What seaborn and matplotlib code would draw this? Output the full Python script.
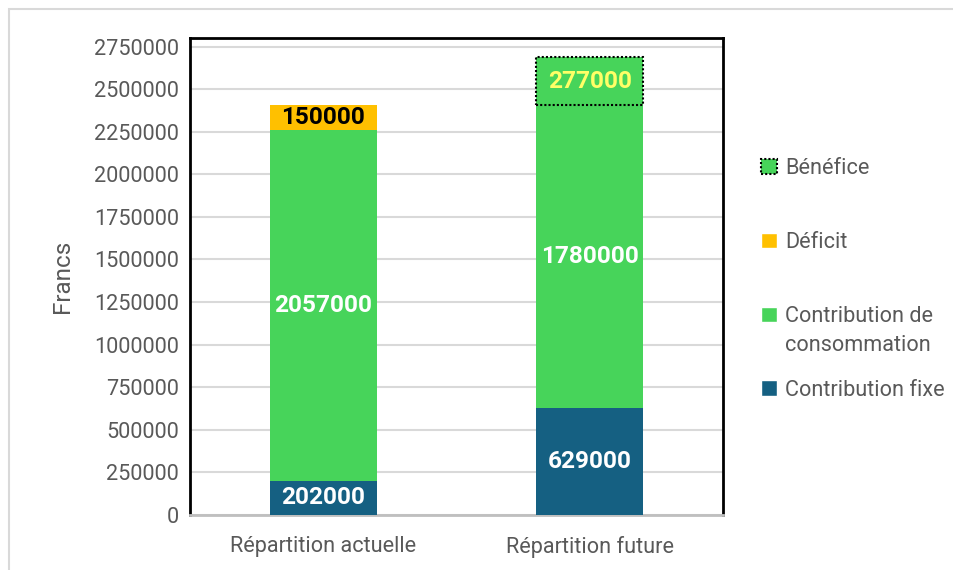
import numpy as np
import pandas as pd
import matplotlib
matplotlib.use("Agg")
import matplotlib.pyplot as plt
from matplotlib.patches import Patch, Rectangle
import seaborn as sns

# data
categories = ["Répartition actuelle", "Répartition future"]
contribution_fixe = [202000, 629000]
contribution_conso = [2057000, 1780000]
deficit = [150000, 0]
benefice = [0, 277000]
y_ticks = list(range(0, 2750001, 250000))

df = pd.DataFrame({
    "Contribution fixe": contribution_fixe,
    "Contribution de consommation": contribution_conso,
    "Déficit": deficit,
    "Bénéfice": benefice,
}, index=categories)

colors = {
    "Contribution fixe": "#156082",
    "Contribution de consommation": "#47D45A",
    "Déficit": "#FFC000",
    "Bénéfice": "#47D45A",
}
text_colors = {
    "Contribution fixe": "white",
    "Contribution de consommation": "white",
    "Déficit": "black",
    "Bénéfice": "#FFFF66",
}

sns.set_theme(style="white")
plt.rcParams["font.family"] = ["Roboto", "DejaVu Sans"]

fig = plt.figure(figsize=(9.54, 5.70), dpi=100)
ax = fig.add_axes([0.1992, 0.0965, 0.5587, 0.8368])

x = np.arange(len(categories))
bottom = np.zeros(len(categories))
for col in df.columns:
    vals = df[col].to_numpy(dtype=float)
    for i, v in enumerate(vals):
        if v <= 0:
            continue
        if col == "Bénéfice":
            ax.bar(x[i], v, bottom=bottom[i], width=0.4, color=colors[col],
                   edgecolor="black", linestyle=(0, (1, 1)), linewidth=1.5, zorder=3)
        else:
            ax.bar(x[i], v, bottom=bottom[i], width=0.4, color=colors[col],
                   linewidth=0, zorder=3)
        ax.text(x[i], bottom[i] + v / 2, f"{int(v)}", ha="center", va="center",
                fontsize=17.6, fontweight="bold", color=text_colors[col], zorder=4)
    bottom += vals

ax.set_xlim(-0.5, 1.5)
ax.set_ylim(0, 2800000)
ax.set_yticks(y_ticks)
ax.set_yticklabels([str(t) for t in y_ticks])
ax.set_xticks(x)
ax.set_xticklabels(categories)
ax.tick_params(axis="both", labelsize=15.6, labelcolor="#595959", length=0, pad=8)
ax.tick_params(axis="x", pad=15)
ax.yaxis.grid(True, color="#D9D9D9", linewidth=1.5, zorder=0)
ax.set_axisbelow(True)
ax.set_ylabel("Francs", fontsize=17.5, color="#595959", labelpad=14)

for side in ["left", "top", "right"]:
    ax.spines[side].set_color("black")
    ax.spines[side].set_linewidth(2)
ax.spines["bottom"].set_color("#BFBFBF")
ax.spines["bottom"].set_linewidth(2)

# legend: evenly spaced entries, the long label wraps onto a second line
handles = [
    Patch(facecolor=colors["Bénéfice"], edgecolor="black", linestyle=(0, (1, 1)),
          linewidth=1.5, label="Bénéfice"),
    Patch(facecolor=colors["Déficit"], label="Déficit"),
    Patch(facecolor=colors["Contribution de consommation"], label="Contribution de"),
    Patch(facecolor=colors["Contribution fixe"], label="Contribution fixe"),
]
leg = fig.legend(handles=handles, loc="upper left", bbox_to_anchor=(0.789, 0.738),
                 frameon=False, fontsize=15.6, labelcolor="#595959",
                 handlelength=0.7, handleheight=0.7, handletextpad=0.4,
                 labelspacing=2.44, borderaxespad=0)

fig.canvas.draw()
wrap_src = leg.get_texts()[2]
bb = wrap_src.get_window_extent()
fig.text(bb.x0 / fig.bbox.width, (bb.y0 - 29 + bb.height / 2) / fig.bbox.height,
         "consommation", fontsize=15.6, color="#595959", ha="left", va="center")

# light frame around the chart
fig.patches.append(Rectangle((9 / 954, -0.1), 2, 1.1 - 9 / 570, transform=fig.transFigure,
                             fill=False, edgecolor="#D9D9D9", linewidth=1.5))

fig.savefig("out.png", dpi=100)
